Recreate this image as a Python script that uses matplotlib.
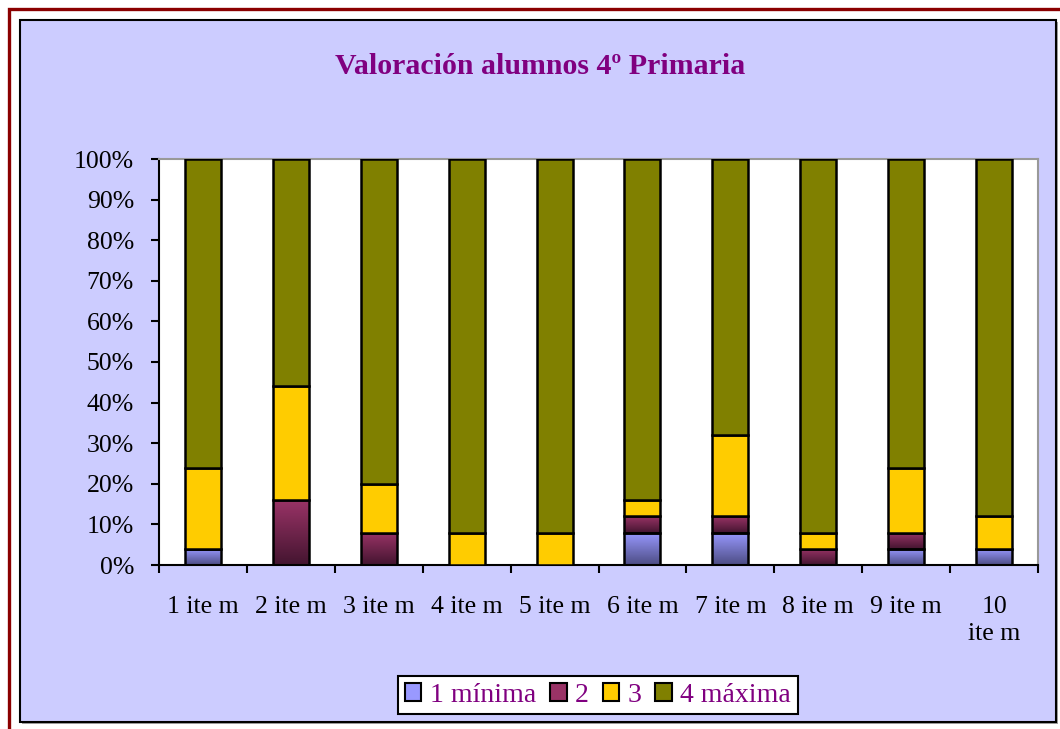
import matplotlib
matplotlib.use("Agg")
import matplotlib.pyplot as plt
import numpy as np
from matplotlib.patches import Rectangle, Patch
from matplotlib.colors import LinearSegmentedColormap

categories = ["1 ite m", "2 ite m", "3 ite m", "4 ite m", "5 ite m",
              "6 ite m", "7 ite m", "8 ite m", "9 ite m", "10\nite m"]
s1_minima = [4, 0, 0, 0, 0, 8, 8, 0, 4, 4]
s2 = [0, 16, 8, 0, 0, 4, 4, 4, 4, 0]
s3 = [20, 28, 12, 8, 8, 4, 20, 4, 16, 8]
s4_maxima = [76, 56, 80, 92, 92, 84, 68, 92, 76, 88]
series_names = ["1 mínima", "2", "3", "4 máxima"]
yticks = [0, 10, 20, 30, 40, 50, 60, 70, 80, 90, 100]
title = "Valoración alumnos 4º Primaria"

W, H = 1060, 729
fig = plt.figure(figsize=(W / 100, H / 100), dpi=100)
fig.patch.set_facecolor("white")

# outer dark red border
fig.patches.append(Rectangle((8.5 / W, 1 - 1100 / H), 1100 / W, (1100 - 8.5) / H,
                             transform=fig.transFigure, fill=False,
                             edgecolor="#8B0000", linewidth=2.4, zorder=-3))
# shadow + chart area frame
fig.patches.append(Rectangle((22 / W, 1 - 724 / H), (1036) / W, (702) / H,
                             transform=fig.transFigure, facecolor="#A0A0A0",
                             edgecolor="none", zorder=-2))
fig.patches.append(Rectangle((20 / W, 1 - 722 / H), (1036) / W, (702) / H,
                             transform=fig.transFigure, facecolor="#CCCCFF",
                             edgecolor="black", linewidth=1.5, zorder=-1))

ax = fig.add_axes([159 / W, 1 - 565 / H, (1038 - 159) / W, (565 - 159) / H])
ax.set_zorder(1)
ax.set_facecolor("white")

x = np.arange(len(categories))
data = [np.array(s1_minima), np.array(s2), np.array(s3), np.array(s4_maxima)]
colors = ["#9999FF", "#993366", "#FFCC00", "#808000"]
grads = {0: ("#4D4D85", "#9999FF"), 1: ("#441530", "#993366")}
width = 0.41
bottom = np.zeros(len(categories))
for i, (vals, c) in enumerate(zip(data, colors)):
    bars = ax.bar(x, vals, width, bottom=bottom, color=c, edgecolor="black",
                  linewidth=1.8, zorder=3)
    if i in grads:
        cmap = LinearSegmentedColormap.from_list("g%d" % i, list(grads[i]))
        grad = np.linspace(0, 1, 64).reshape(-1, 1)
        for b, v, bt, xi in zip(bars, vals, bottom, x):
            if v <= 0:
                continue
            b.set_facecolor("none")
            im = ax.imshow(grad, cmap=cmap, origin="lower", aspect="auto",
                           extent=(xi - width / 2, xi + width / 2, bt, bt + v),
                           zorder=2.5, interpolation="bilinear")
            im.set_clip_path(b)
    bottom += vals

ax.set_xlim(-0.5, len(categories) - 0.5)
ax.set_ylim(0, 100)
ax.set_yticks(yticks)
ax.set_yticklabels(["%d%%" % t for t in yticks], fontfamily="Liberation Serif",
                   fontsize=18.5)
ax.set_xticks(x)
ax.set_xticklabels(categories, fontfamily="Liberation Serif", fontsize=18.5,
                   linespacing=1.3, va="top")
ax.set_xticks(np.arange(-0.5, len(categories), 1), minor=True)
ax.tick_params(axis="x", which="major", length=0, pad=22)
ax.tick_params(axis="x", which="minor", length=6, width=1.5, direction="out")
ax.tick_params(axis="y", length=6, width=1.5, direction="out", pad=12)
for s in ["left", "bottom"]:
    ax.spines[s].set_color("black")
    ax.spines[s].set_linewidth(1.5)
for s in ["top", "right"]:
    ax.spines[s].set_color("#999999")
    ax.spines[s].set_linewidth(1.5)

fig.text(540 / W, 1 - 67 / H, title, ha="center", va="center",
         fontfamily="Liberation Serif", fontweight="bold", fontsize=21.5,
         color="#800080")

handles = [Patch(facecolor=c, edgecolor="black", linewidth=1.5) for c in colors]
leg = fig.legend(handles, series_names, loc="center", bbox_to_anchor=(598 / W, 1 - 695 / H),
                 ncol=4, frameon=True, fancybox=False, edgecolor="black",
                 facecolor="white", framealpha=1,
                 prop={"family": "Liberation Serif", "size": 20},
                 handlelength=0.6, handleheight=0.6, handletextpad=0.3,
                 columnspacing=0.5, borderpad=0.25)
leg.get_frame().set_linewidth(1.5)
leg.set_zorder(2)
for t in leg.get_texts():
    t.set_color("#800080")

fig.savefig("out.png", dpi=100, facecolor="white")
